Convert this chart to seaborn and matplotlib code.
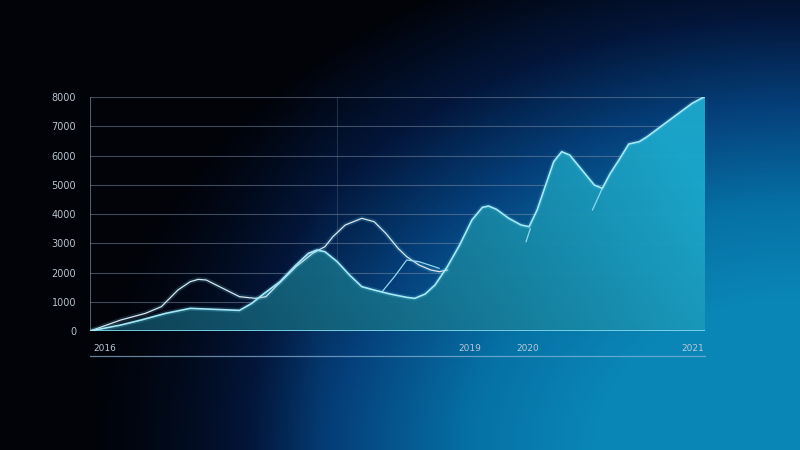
import numpy as np
import pandas as pd
import matplotlib
matplotlib.use('Agg')
import matplotlib.pyplot as plt
import matplotlib.patheffects as pe
from matplotlib.colors import LinearSegmentedColormap
import seaborn as sns

# ── data (x = position 0..100 across the plot, y = value) ──
fill_x = [0.0, 5.0, 8.3, 12.3, 16.3, 20.3, 24.3, 26.3, 28.2, 30.9, 33.5, 35.5, 36.9,
          38.2, 40.2, 42.2, 44.2, 46.2, 48.8, 51.5, 52.8, 54.5, 56.1, 58.1, 60.1, 62.1,
          63.8, 64.8, 66.1, 68.1, 70.1, 71.4, 72.7, 74.0, 75.4, 76.7, 78.0, 80.0, 82.0,
          83.3, 84.6, 86.0, 87.6, 89.3, 90.6, 94.6, 97.9, 100.0]
fill_y = [0, 205, 376, 604, 775, 741, 706, 946, 1265, 1687, 2257, 2655, 2769,
          2712, 2371, 1915, 1516, 1402, 1265, 1151, 1117, 1265, 1573, 2200, 2940, 3795,
          4228, 4274, 4160, 3852, 3624, 3567, 4137, 4935, 5790, 6131, 6017, 5505, 4992,
          4878, 5390, 5846, 6393, 6473, 6644, 7271, 7784, 8020]

upper_x = [0.0, 5.0, 9.0, 11.6, 14.3, 16.3, 17.6, 18.9, 21.6, 24.3, 26.9, 28.6, 30.2,
           33.5, 36.2, 38.2, 39.5, 41.5, 44.2, 46.2, 48.1, 50.1, 51.5, 53.5, 55.4, 56.8, 58.1]
upper_y = [0, 376, 604, 832, 1402, 1687, 1766, 1744, 1459, 1174, 1117, 1174, 1516,
           2200, 2655, 2883, 3225, 3624, 3852, 3738, 3339, 2826, 2542, 2257, 2086, 2029, 2086]

seg1_x = [47.5, 49.5, 51.5, 53.5, 56.8]
seg1_y = [1345, 1858, 2428, 2371, 2143]
seg2_x = [70.9, 71.6]
seg2_y = [3050, 3500]
seg3_x = [81.7, 83.3]
seg3_y = [4137, 4878]

y_ticks = [0, 1000, 2000, 3000, 4000, 5000, 6000, 7000, 8000]
y_labels = ['0', '1000', '2000', '3000', '4000', '5000', '6000', '7000', '8000']
x_ticks = [2.4, 61.8, 71.2, 98.0]
x_labels = ['2016', '2019', '2020', '2021']

df_fill = pd.DataFrame({'x': fill_x, 'y': fill_y})
df_upper = pd.DataFrame({'x': upper_x, 'y': upper_y})

sns.set_style('dark')
plt.rcParams['font.family'] = ['DejaVu Sans']

fig = plt.figure(figsize=(8, 4.5), dpi=100)

# background: black top-left, navy in the middle, glowing blue at bottom-right
bg = fig.add_axes([0, 0, 1, 1], zorder=-2)
gx, gy = np.meshgrid(np.linspace(0, 1, 400), np.linspace(0, 1, 225))
d = np.sqrt(((1 - gx) / 0.8) ** 2 + ((1 - gy) / 1.05) ** 2)
f = np.clip((1.12 - d) * 1.25, 0, 1)
f = f * np.clip(gx * 2.5, 0, 1)
bg_cmap = LinearSegmentedColormap.from_list(
    'bg', ['#010309', '#03163a', '#05417c', '#0670a4', '#0a86b6'])
bg.imshow(f, cmap=bg_cmap, vmin=0, vmax=1, aspect='auto',
          extent=[0, 1, 0, 1], origin='upper')
bg.axis('off')

ax = fig.add_axes([0.1125, 0.2644, 0.76875, 0.52])
ax.set_facecolor('none')

# gradient fill under the main series
poly = ax.fill_between(fill_x, 0, fill_y, color='none', lw=0)
fx, fy = np.meshgrid(np.linspace(0, 1, 300), np.linspace(0, 1, 150))
c0 = np.array([0.06, 0.25, 0.33])
c1 = np.array([0.11, 0.66, 0.80])
tt = np.clip(fx * 0.85 + fy * 0.25, 0, 1)
fimg = c0[None, None, :] * (1 - tt[..., None]) + c1[None, None, :] * tt[..., None]
im = ax.imshow(fimg, aspect='auto', extent=[0, 100, 8000, 0], zorder=1, alpha=0.95)
im.set_clip_path(poly.get_paths()[0], transform=ax.transData)
ax.set_xlim(0, 100)
ax.set_ylim(0, 8000)

# grid
for v in y_ticks[1:]:
    ax.axhline(v, color='#7f8fa6', lw=0.8, alpha=0.5, zorder=0.5)
ax.axvline(40.2, color='#6a7e9a', lw=0.8, alpha=0.3, zorder=0.5)
ax.axvline(0, color='#8a98aa', lw=0.8, alpha=0.6, zorder=0.5)
ax.axvline(100, color='#8a98aa', lw=0.8, alpha=0.6, zorder=0.5)
ax.axhline(0, color='#7fd8ec', lw=1.4, alpha=0.9, zorder=3)

glow = [pe.Stroke(linewidth=3.5, foreground='#5fd0ee', alpha=0.18), pe.Normal()]
sns.lineplot(data=df_upper, x='x', y='y', ax=ax, color='#dde4ec', lw=0.9,
             zorder=4, path_effects=glow, sort=False)
sns.lineplot(data=df_fill, x='x', y='y', ax=ax, color='#a6e8f6', lw=1.2,
             zorder=5, path_effects=glow, sort=False)
for sx, sy in [(seg1_x, seg1_y), (seg2_x, seg2_y), (seg3_x, seg3_y)]:
    sns.lineplot(x=sx, y=sy, ax=ax, color='#8fd8ee', lw=0.9, zorder=4, sort=False)

ax.set_yticks(y_ticks)
ax.set_yticklabels(y_labels, color='#b8c2cc', fontsize=7)
ax.set_xticks(x_ticks)
ax.set_xticklabels(x_labels, color='#b8c8d6', fontsize=6.5)
ax.tick_params(axis='both', length=0)
ax.tick_params(axis='x', pad=9)
ax.tick_params(axis='y', pad=10)
ax.set_xlabel('')
ax.set_ylabel('')
ax.grid(False)
for s in ax.spines.values():
    s.set_visible(False)

# baseline below the x labels
ax.plot([0, 1], [-0.107, -0.107], transform=ax.transAxes, clip_on=False,
        color='#8fb8d6', lw=0.9, alpha=0.7)

fig.savefig('out.png', dpi=100)
